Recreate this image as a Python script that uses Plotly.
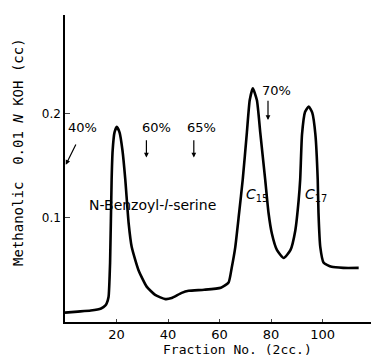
import plotly.graph_objects as go

fraction = [0, 5, 10, 14, 15.7, 16.2, 16.9, 17.5, 18.1, 18.5, 19.2, 20.1, 21.2, 22.3, 23.4, 24.7, 25.9,
            28.5, 31.7, 35, 39, 41.4, 45.3, 48, 54, 60.5, 63.5, 64.7, 66.1, 67.6, 69, 70.6, 71.7,
            72.9, 74.5, 75.8, 77.7, 79, 80.3, 82.3, 84.9, 87.5, 89.4, 90.7, 91.3, 92, 93.2, 94.6,
            96.0, 97.2, 98.1, 98.4, 99.1, 100.4, 103.5, 108, 114]
koh = [0.009, 0.010, 0.011, 0.013, 0.016, 0.018, 0.024, 0.057, 0.137, 0.165, 0.182, 0.1875, 0.182,
       0.165, 0.137, 0.095, 0.072, 0.050, 0.034, 0.026, 0.022, 0.023, 0.028, 0.030, 0.031, 0.033,
       0.038, 0.052, 0.072, 0.105, 0.137, 0.182, 0.213, 0.2245, 0.213, 0.182, 0.137, 0.105, 0.085,
       0.069, 0.0615, 0.069, 0.088, 0.117, 0.137, 0.180, 0.202, 0.207, 0.201, 0.180, 0.137, 0.105,
       0.072, 0.057, 0.053, 0.052, 0.052]

x_ticks = [20, 40, 60, 80, 100]
y_ticks = [0.1, 0.2]
y_tick_labels = ["0.1", "0.2"]

# (label, text x, text y, arrow x, arrow start y, arrow end y)
solvent_marks = [
    ("60%", 35.5, 0.187, 31.6, 0.176, 0.158),
    ("65%", 53.0, 0.187, 50.0, 0.176, 0.158),
    ("70%", 82.0, 0.222, 78.8, 0.214, 0.194),
]

fig = go.Figure()
fig.add_trace(go.Scatter(x=fraction, y=koh, mode="lines",
                         line=dict(color="black", width=2.6, shape="spline", smoothing=0.5),
                         hoverinfo="skip", showlegend=False))

font = dict(family="DejaVu Sans", size=13, color="black")
ann = []
for lab, tx, ty, axx, y0, y1 in solvent_marks:
    ann.append(dict(x=tx, y=ty, text=lab, showarrow=False, font=font, xref="x", yref="y"))
    ann.append(dict(x=axx, y=y1, ax=axx, ay=y0, axref="x", ayref="y", xref="x", yref="y",
                    text="", showarrow=True, arrowhead=2, arrowsize=0.8, arrowwidth=1.2,
                    arrowcolor="black"))
ann.append(dict(x=6.6, y=0.187, text="40%", showarrow=False, font=font, xref="x", yref="y"))
ann.append(dict(x=0.3, y=0.151, ax=4.5, ay=0.172, axref="x", ayref="y", xref="x", yref="y",
                text="", showarrow=True, arrowhead=2, arrowsize=0.8, arrowwidth=1.2,
                arrowcolor="black"))
ann.append(dict(x=34, y=0.112, text="N-Benzoyl-<i>l</i>-serine", showarrow=False,
                font=dict(family="DejaVu Sans", size=14, color="black")))
ann.append(dict(x=74.6, y=0.122, text="<i>C</i><sub>15</sub>", showarrow=False,
                font=dict(family="DejaVu Sans", size=14, color="black")))
ann.append(dict(x=97.3, y=0.122, text="<i>C</i><sub>17</sub>", showarrow=False,
                font=dict(family="DejaVu Sans", size=14, color="black")))
ann.append(dict(x=-0.15, y=0.554, xref="paper", yref="paper", textangle=-90,
                xanchor="center", yanchor="middle",
                text="Methanolic  0.01 <i>N</i> KOH (cc)", showarrow=False,
                font=dict(family="DejaVu Sans Mono", size=14, color="black")))
ann.append(dict(x=0.55, y=-0.088, xref="paper", yref="paper", xanchor="center", yanchor="middle",
                text="Fraction No. (2cc.)", showarrow=False,
                font=dict(family="DejaVu Sans Mono", size=13, color="black")))

# The page body adds an 8px offset, so the figure is 8px smaller with trimmed margins.
fig.update_layout(
    width=371, height=350,
    margin=dict(l=57, r=1, t=7, b=36),
    paper_bgcolor="white", plot_bgcolor="white",
    annotations=ann,
    xaxis=dict(range=[0, 121.5], tickvals=x_ticks, ticks="inside", ticklen=3,
               showline=True, linecolor="black", linewidth=1.5, showgrid=False,
               zeroline=False, tickfont=font),
    yaxis=dict(range=[0, 0.295], tickvals=y_ticks, ticktext=y_tick_labels, ticks="inside",
               ticklen=5, showline=True, linecolor="black", linewidth=1.5, showgrid=False,
               zeroline=False, tickfont=dict(family="DejaVu Sans", size=12, color="black")),
)
fig.write_html("out.html")
